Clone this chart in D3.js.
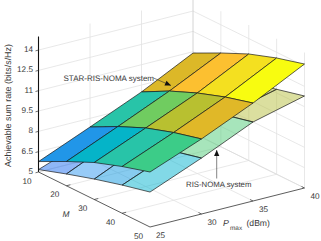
<!DOCTYPE html>
<html>
<head>
<meta charset="utf-8">
<script src="https://cdn.jsdelivr.net/npm/d3@7"></script>
<style>
  html, body { margin: 0; padding: 0; background: #fff; overflow: hidden; }
  text { font-family: "Liberation Sans", Arial, sans-serif; fill: #3a3a3a; text-rendering: geometricPrecision; }
</style>
</head>
<body>
<script>
var width = 321;
var height = 241;

// axis values
var mValues = [10, 20, 30, 40, 50];
var pValues = [25, 30, 35, 40];
var zTicks = [5, 6.5, 8, 9.5, 11, 12.5, 14];
var zTickLabels = ["5", "6.5", "8", "9.5", "11", "12.5", "14"];

// achievable rate, one row per Pmax, one column per M
var starRis = [
    [5.77, 6.79, 7.73, 8.45, 9.06],
    [7.36, 8.41, 9.32, 10.0, 10.54],
    [8.99, 10.07, 10.94, 11.66, 12.23],
    [10.9, 11.92, 12.86, 13.58, 14.15]
];
var risNoma = [
    [5.18, 5.87, 6.51, 7.08, 7.58],
    [6.55, 7.56, 8.21, 8.62, 9.13],
    [8.43, 9.12, 9.76, 10.33, 10.83],
    [9.4, 10.1, 10.72, 11.27, 11.79]
];

// cell colours, same layout as the values minus one
var starColors = [
    ["#2196e8", "#05b4c8", "#28c4a8", "#3ccc88"],
    ["#28c4a8", "#70cc60", "#b8c030", "#e0b828"],
    ["#dcb828", "#fcc030", "#f4e020", "#f8fc10"]
];
var risColors = [
    ["#2070f0", "#3098f0", "#1098e0", "#05b4d0"],
    ["#28c4a8", "#40c880", "#50cc70", "#50cc78"],
    ["#b8c030", "#b8c030", "#b8c030", "#b8c040"]
];

// projection pieces
var ox = 38.5, oy = 172;
var mX = d3.scaleLinear().domain([10, 50]).range([0, 111.5]);
var mY = d3.scaleLinear().domain([10, 50]).range([0, 55]);
var pX = d3.scaleLinear().domain([25, 40]).range([0, 154.5]);
var pY = d3.scaleLinear().domain([25, 40]).range([0, -39]);
var zY = d3.scaleLinear().domain([5, 15]).range([0, -135.5]);

function project(m, p, z) {
    return [ox + mX(m) + pX(p), oy + mY(m) + pY(p) + zY(z)];
}

var svg = d3.select("body").append("svg")
    .attr("width", width)
    .attr("height", height)
    .style("display", "block");

var line = d3.line();
var zTop = 15;

function seg(g, pts, color, w) {
    g.append("path")
        .attr("d", line(pts))
        .attr("fill", "none")
        .attr("stroke", color)
        .attr("stroke-width", w);
}

// walls and floor grid
var grid = svg.append("g");
var gridColor = "#e2e2e2";
zTicks.forEach(function(z) {
    seg(grid, [project(10, 25, z), project(10, 40, z), project(50, 40, z)], gridColor, 0.8);
});
pValues.slice(1, 3).forEach(function(p) {
    seg(grid, [project(50, p, 5), project(10, p, 5), project(10, p, zTop)], gridColor, 0.8);
});
mValues.slice(1, 4).forEach(function(m) {
    seg(grid, [project(m, 25, 5), project(m, 40, 5), project(m, 40, zTop)], gridColor, 0.8);
});
seg(grid, [project(50, 40, 5), project(50, 40, zTop)], gridColor, 0.8);
seg(grid, [project(10, 40, 5), project(10, 40, zTop)], "#cfcfcf", 0.9);
seg(grid, [project(10, 40, 5), project(50, 40, 5)], "#dcdcdc", 0.8);
seg(grid, [project(10, 40, 5), project(10, 25, 5)], "#dcdcdc", 0.8);

function drawSurface(values, colors, alpha) {
    var g = svg.append("g");
    for (var j = pValues.length - 2; j >= 0; j--) {
        for (var i = 0; i < mValues.length - 1; i++) {
            var pts = [
                project(mValues[i], pValues[j], values[j][i]),
                project(mValues[i + 1], pValues[j], values[j][i + 1]),
                project(mValues[i + 1], pValues[j + 1], values[j + 1][i + 1]),
                project(mValues[i], pValues[j + 1], values[j + 1][i])
            ];
            g.append("path")
                .attr("d", line(pts) + "Z")
                .attr("fill", colors[j][i])
                .attr("fill-opacity", alpha)
                .attr("stroke", "#1a1a1a")
                .attr("stroke-width", 0.7)
                .attr("stroke-linejoin", "round");
        }
    }
}
drawSurface(risNoma, risColors, 0.5);
drawSurface(starRis, starColors, 1);

// axes
var axes = svg.append("g");
seg(axes, [project(10, 25, 5), project(10, 25, zTop)], "#111", 1.1);
seg(axes, [project(10, 25, 5), project(50, 25, 5), project(50, 40, 5)], "#333", 0.8);

zTicks.forEach(function(z, i) {
    var a = project(10, 25, z);
    seg(axes, [a, [a[0] - 3, a[1] + 0.8]], "#333", 0.7);
    axes.append("text")
        .attr("x", a[0] - 5.5)
        .attr("y", a[1] - 0.2)
        .attr("text-anchor", "end")
        .attr("font-size", 8.2)
        .attr("dominant-baseline", "middle")
        .text(zTickLabels[i]);
});
mValues.forEach(function(m) {
    var a = project(m, 25, 5);
    if (m > 10 && m < 50) seg(axes, [a, [a[0] + 4, a[1] - 1]], "#333", 0.7);
    axes.append("text")
        .attr("x", a[0] - 11.5)
        .attr("y", a[1] + 9.5)
        .attr("text-anchor", "middle")
        .attr("font-size", 8.2)
        .attr("dominant-baseline", "middle")
        .text(m);
});
pValues.forEach(function(p) {
    var a = project(50, p, 5);
    if (p > 25) seg(axes, [a, [a[0] - 3, a[1] - 1.5]], "#333", 0.7);
    axes.append("text")
        .attr("x", a[0] + 10.5)
        .attr("y", a[1] + 9)
        .attr("text-anchor", "middle")
        .attr("font-size", 8.2)
        .attr("dominant-baseline", "middle")
        .text(p);
});

// axis titles
svg.append("text")
    .attr("transform", "translate(11,105.5) rotate(-90)")
    .attr("text-anchor", "middle")
    .attr("font-size", 8.9)
    .text("Achievable sum rate (bits/s/Hz)");
svg.append("text")
    .attr("x", 66)
    .attr("y", 217)
    .attr("text-anchor", "middle")
    .attr("font-size", 8.4)
    .attr("font-style", "italic")
    .text("M");
svg.append("text").attr("x", 223).attr("y", 226).attr("font-size", 8.8).attr("font-style", "italic").text("P");
svg.append("text").attr("x", 230).attr("y", 230).attr("font-size", 6.4).text("max");
svg.append("text").attr("x", 246.5).attr("y", 226).attr("font-size", 8.6).text("(dBm)");

// annotations
var labels = ["STAR-RIS-NOMA system", "RIS-NOMA system"];
svg.append("text").attr("x", 63.5).attr("y", 81).attr("font-size", 8).text(labels[0]);
svg.append("text").attr("x", 186).attr("y", 186.5).attr("font-size", 7.8).text(labels[1]);

function arrow(x0, y0, x1, y1) {
    var a = Math.atan2(y1 - y0, x1 - x0);
    seg(svg, [[x0, y0], [x1, y1]], "#333", 0.6);
    var l = 6, w = 2.6;
    var bx = x1 - l * Math.cos(a), by = y1 - l * Math.sin(a);
    svg.append("path")
        .attr("d", line([
            [x1, y1],
            [bx + w * Math.sin(a), by - w * Math.cos(a)],
            [bx - w * Math.sin(a), by + w * Math.cos(a)]
        ]) + "Z")
        .attr("fill", "#111");
}
arrow(153.5, 78, 171, 85.5);
arrow(216.7, 178.5, 216.7, 150);
</script>
</body>
</html>
